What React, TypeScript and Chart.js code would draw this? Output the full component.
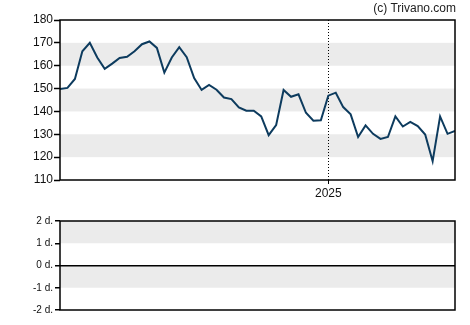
import { useEffect, useRef } from "react";
import { Chart, registerables } from "chart.js";

Chart.register(...registerables);

// Weekly closing prices
const prices = [
  149.8, 150.3, 154.2, 166.3, 170.0, 163.6, 158.6, 160.9, 163.4, 163.9,
  166.3, 169.4, 170.6, 167.8, 157.0, 163.6, 168.1, 163.7, 154.6, 149.4,
  151.6, 149.5, 146.1, 145.4, 141.8, 140.3, 140.3, 137.8, 129.6, 134.0,
  149.4, 146.4, 147.5, 139.4, 135.9, 136.1, 146.9, 148.2, 141.9, 138.7,
  128.8, 133.9, 130.2, 128.0, 128.8, 137.8, 133.4, 135.4, 133.6, 129.9,
  118.2, 137.8, 130.2, 131.5,
];
const yearMarkIndex = [36];
const yearMarkLabels = ["2025"];
const priceTicks = [110, 120, 130, 140, 150, 160, 170, 180];
const signalTicks = [-2, -1, 0, 1, 2];
const signalValues: number[] = [];
const credit = "(c) Trivano.com";

const FONT = '"Liberation Sans", Arial, sans-serif';
const LINE = "#0d3b5e";
const BAND = "#ebebeb";

function bandPlugin(shade: (lo: number) => boolean) {
  return {
    id: "bands",
    beforeDraw(chart: any) {
      const { ctx, chartArea: a } = chart;
      const y = chart.scales.y;
      const t = y.ticks.map((k: any) => k.value).sort((p: number, q: number) => p - q);
      ctx.save();
      ctx.fillStyle = BAND;
      for (let i = 0; i < t.length - 1; i++) {
        if (!shade(t[i])) continue;
        const y1 = y.getPixelForValue(t[i + 1]);
        const y2 = y.getPixelForValue(t[i]);
        ctx.fillRect(a.left, y1, a.right - a.left, y2 - y1);
      }
      ctx.restore();
    },
  };
}

const framePlugin = {
  id: "frame",
  afterDraw(chart: any) {
    const { ctx, chartArea: a } = chart;
    ctx.save();
    ctx.strokeStyle = "#000";
    ctx.lineWidth = 1.5;
    ctx.strokeRect(a.left, a.top, a.right - a.left, a.bottom - a.top);
    ctx.restore();
  },
};

export default function App() {
  const topRef = useRef<HTMLCanvasElement>(null);
  const botRef = useRef<HTMLCanvasElement>(null);

  useEffect(() => {
    const top = new Chart(topRef.current!, {
      type: "line",
      data: {
        datasets: [
          {
            data: prices.map((v, i) => ({ x: i, y: v })),
            borderColor: LINE,
            borderWidth: 2,
            pointRadius: 0,
            tension: 0,
            fill: false,
          },
        ],
      },
      options: {
        responsive: false,
        animation: false,
        layout: { padding: { top: 20, right: 15, left: 0, bottom: 0 } },
        plugins: { legend: { display: false }, tooltip: { enabled: false }, title: { display: false } },
        scales: {
          x: {
            type: "linear",
            min: 0,
            max: prices.length - 1,
            afterBuildTicks: (s: any) => {
              s.ticks = yearMarkIndex.map((v) => ({ value: v }));
            },
            afterFit: (s: any) => {
              s.height = 25;
            },
            border: { display: false, dash: [1, 2] },
            grid: {
              display: true,
              drawOnChartArea: true,
              drawTicks: true,
              color: "#000",
              lineWidth: 1,
              tickLength: 4,
              tickColor: "#000",
            },
            ticks: {
              autoSkip: false,
              maxRotation: 0,
              padding: 2,
              color: "#111",
              font: { family: FONT, size: 12 },
              callback: (v: any) => {
                const k = yearMarkIndex.indexOf(Number(v));
                return k >= 0 ? yearMarkLabels[k] : "";
              },
            },
          },
          y: {
            min: priceTicks[0],
            max: priceTicks[priceTicks.length - 1],
            afterBuildTicks: (s: any) => {
              s.ticks = priceTicks.map((v) => ({ value: v }));
            },
            afterFit: (s: any) => {
              s.width = 60;
            },
            border: { display: false },
            grid: {
              drawOnChartArea: false,
              drawTicks: true,
              tickLength: 6,
              tickColor: "#000",
              tickWidth: 1.5,
            },
            ticks: {
              padding: 1,
              color: "#111",
              font: { family: FONT, size: 12 },
            },
          },
        },
      },
      plugins: [bandPlugin((lo) => lo % 20 === 0), framePlugin],
    });

    const bot = new Chart(botRef.current!, {
      type: "line",
      data: {
        datasets: [
          {
            data: signalValues.map((v, i) => ({ x: i, y: v })),
            borderColor: LINE,
            borderWidth: 2,
            pointRadius: 0,
          },
        ],
      },
      options: {
        responsive: false,
        animation: false,
        layout: { padding: { top: 16, right: 15, left: 0, bottom: 15 } },
        plugins: { legend: { display: false }, tooltip: { enabled: false }, title: { display: false } },
        scales: {
          x: {
            type: "linear",
            min: 0,
            max: prices.length - 1,
            display: false,
          },
          y: {
            min: signalTicks[0],
            max: signalTicks[signalTicks.length - 1],
            afterBuildTicks: (s: any) => {
              s.ticks = signalTicks.map((v) => ({ value: v }));
            },
            afterFit: (s: any) => {
              s.width = 60;
            },
            border: { display: false },
            grid: {
              drawOnChartArea: true,
              drawTicks: true,
              tickLength: 5,
              tickColor: "#000",
              tickWidth: 1.5,
              lineWidth: 1.5,
              color: (c: any) => (c.tick && c.tick.value === 0 ? "#000" : "rgba(0,0,0,0)"),
            },
            ticks: {
              padding: 2,
              color: "#111",
              font: { family: FONT, size: 10 },
              callback: (v: any) => `${v} d.`,
            },
          },
        },
      },
      plugins: [bandPlugin((lo) => Math.abs(lo) % 2 === 1), framePlugin],
    });

    return () => {
      top.destroy();
      bot.destroy();
    };
  }, []);

  return (
    <div style={{ position: "absolute", left: 0, top: 0, width: 470, height: 325, background: "#fff" }}>
      <canvas ref={topRef} width={470} height={205} style={{ position: "absolute", left: 0, top: 0, display: "block" }} />
      <canvas ref={botRef} width={470} height={120} style={{ position: "absolute", left: 0, top: 205, display: "block" }} />
      <div
        style={{
          position: "absolute",
          right: 14,
          top: 0,
          fontFamily: FONT,
          fontSize: 12,
          lineHeight: "16px",
          color: "#222",
          whiteSpace: "nowrap",
        }}
      >
        {credit}
      </div>
    </div>
  );
}
